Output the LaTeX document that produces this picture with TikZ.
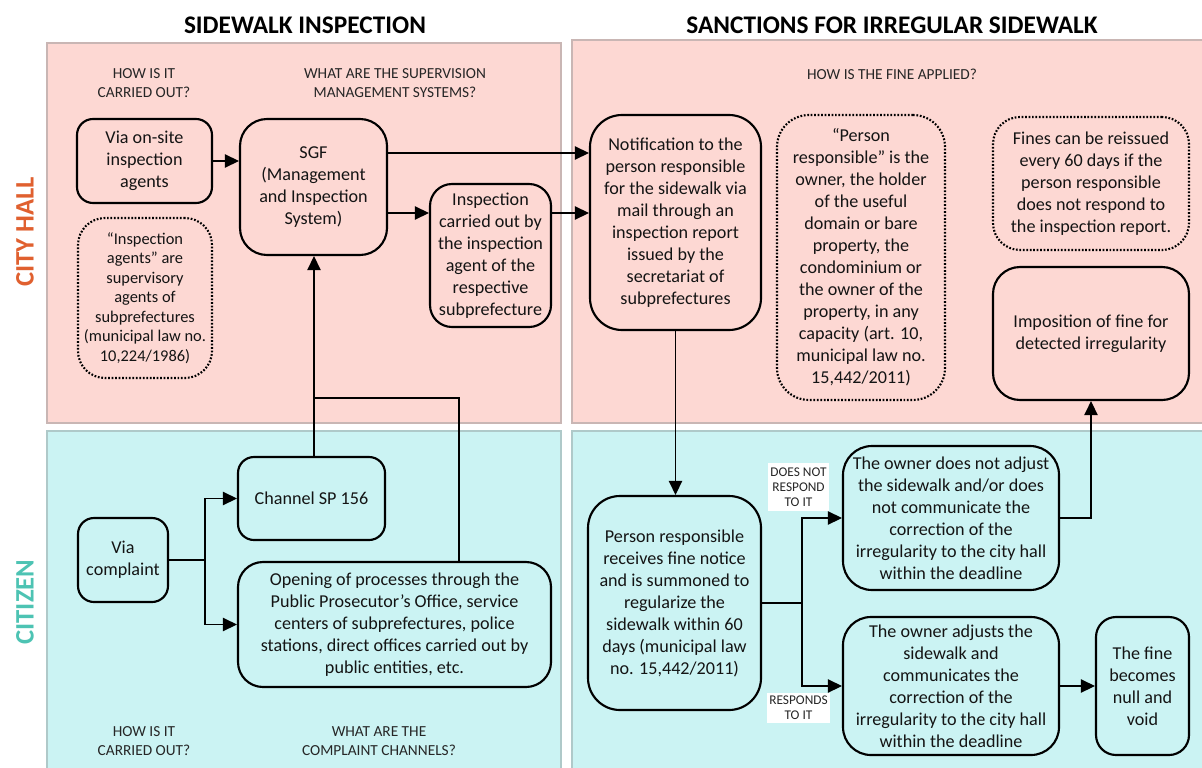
\documentclass[tikz,border=0pt]{standalone}
\usepackage{fontspec}
\setmainfont{Carlito}
\usetikzlibrary{arrows.meta,calc}
\definecolor{pinkbg}{HTML}{FDD8D3}
\definecolor{cyanbg}{HTML}{CBF3F3}
\definecolor{pinkline}{HTML}{C9B6B4}
\definecolor{cyanline}{HTML}{AFC9C9}
\definecolor{cityc}{HTML}{E0602F}
\definecolor{citizenc}{HTML}{4DC3B3}
\tikzset{
  bodyfont/.style={font=\fontsize{13.6}{16.5}\selectfont},
  smallbody/.style={font=\fontsize{12.3}{14.6}\selectfont},
  box/.style={draw=black, line width=1.6pt, align=center, inner sep=0pt, bodyfont, text=black!92},
  dotbox/.style={box, dash pattern=on 1.3pt off 1.3pt, line width=1.6pt},
  sz/.style 2 args={minimum width=#1*0.75pt, minimum height=#2*0.75pt},
  rc/.style={rounded corners=#1*0.75pt},
  conn/.style={draw=black, line width=0.9pt},
  arr/.style={conn, -{Triangle[length=10.5pt,width=10pt]}},
  qlabel/.style={align=center, font=\fontsize{11.5}{14.3}\selectfont, text=black!85},
  blabel/.style={align=center, fill=white, inner sep=1.5pt, font=\fontsize{10}{11.4}\selectfont, text=black!85},
  ttl/.style={font=\fontsize{19}{22}\selectfont\bfseries},
  side/.style={rotate=90, font=\fontsize{20}{22}\selectfont\bfseries},
  panel/.style={line width=0.8pt}
}
\begin{document}
\begin{tikzpicture}[x=0.75pt,y=-0.75pt]
\useasboundingbox (0,0) rectangle (1202,767);
% panels
\fill[pinkbg, draw=pinkline, panel] (47,43) rectangle (561,423);
\fill[pinkbg, draw=pinkline, panel] (572,40) rectangle (1205,423);
\fill[cyanbg, draw=cyanline, panel] (47,431) rectangle (561,770);
\fill[cyanbg, draw=cyanline, panel] (572,431) rectangle (1205,770);
% titles
\node[ttl] (t1) at (305,25) {SIDEWALK INSPECTION};
\node[ttl] (t2) at (892,25) {SANCTIONS FOR IRREGULAR SIDEWALK};
\node[side, text=cityc] (s1) at (25,232) {CITY HALL};
\node[side, text=citizenc] (s2) at (25,602) {CITIZEN};
% question labels
\node[qlabel] (q1) at (144,83) {HOW IS IT\\CARRIED OUT?};
\node[qlabel] (q2) at (395,83) {WHAT ARE THE SUPERVISION\\MANAGEMENT SYSTEMS?};
\node[qlabel] (q3) at (892,74) {HOW IS THE FINE APPLIED?};
\node[qlabel] (q4) at (144,741) {HOW IS IT\\CARRIED OUT?};
\node[qlabel] (q5) at (379,741) {WHAT ARE THE\\COMPLAINT CHANNELS?};
% boxes
\node[box, sz={135}{84}, rc=16] (via1) at (144.5,161) {Via on-site\\inspection\\agents};
\node[dotbox, smallbody, sz={134}{160}, rc=27] (note1) at (145,298) {“Inspection\\agents” are\\supervisory\\agents of\\subprefectures\\(municipal law no.\\10,224/1986)};
\node[box, sz={147}{136}, rc=27] (sgf) at (313.5,187) {SGF\\(Management\\and Inspection\\System)};
\node[box, sz={121}{143}, rc=22] (insp) at (490.5,255.5) {Inspection\\carried out by\\the inspection\\agent of the\\respective\\subprefecture};
\node[box, sz={171}{215}, rc=32] (notif) at (675.5,222.5) {Notification to the\\person responsible\\for the sidewalk via\\mail through an\\inspection report\\issued by the\\secretariat of\\subprefectures};
\node[dotbox, sz={168}{285}, rc=32] (person) at (861,257.5) {“Person\\responsible” is the\\owner, the holder\\of the useful\\domain or bare\\property, the\\condominium or\\the owner of the\\property, in any\\capacity (art. 10,\\municipal law no.\\15,442/2011)};
\node[dotbox, sz={196}{133}, rc=27] (fines) at (1091,183.5) {Fines can be reissued\\every 60 days if the\\person responsible\\does not respond to\\the inspection report.};
\node[box, sz={196}{133}, rc=27] (impos) at (1091,333.5) {Imposition of fine for\\detected irregularity};
\node[box, sz={90}{84}, rc=16] (viac) at (123,560) {Via\\complaint};
\node[box, sz={147}{83}, rc=16] (chan) at (311.5,498.5) {Channel SP 156};
\node[box, sz={313}{125}, rc=25] (open) at (394.5,624.5) {Opening of processes through the\\Public Prosecutor’s Office, service\\centers of subprefectures, police\\stations, direct offices carried out by\\public entities, etc.};
\node[box, sz={173}{214}, rc=32] (recv) at (674.5,603) {Person responsible\\receives fine notice\\and is summoned to\\regularize the\\sidewalk within 60\\days (municipal law\\no. 15,442/2011)};
\node[box, sz={216}{144}, rc=29] (notadj) at (951,518) {The owner does not adjust\\the sidewalk and/or does\\not communicate the\\correction of the\\irregularity to the city hall\\within the deadline};
\node[box, sz={216}{138}, rc=28] (adj) at (951,686) {The owner adjusts the\\sidewalk and\\communicates the\\correction of the\\irregularity to the city hall\\within the deadline};
\node[box, sz={93}{138}, rc=20] (nullv) at (1142.5,686) {The fine\\becomes\\null and\\void};
% helper coordinates
\coordinate (y153) at (0,153);
\coordinate (y213) at (0,213);
\coordinate (y398) at (0,398);
\coordinate (x205) at (205,0);
\coordinate (x459) at (459,0);
\coordinate (x802) at (802,0);
\coordinate (x1091) at (1091,0);
\coordinate (x314) at (314,0);
% connectors
\draw[arr] (via1.east) -- (via1.east -| sgf.west);
\draw[arr] (sgf.east |- y153) -- (notif.west |- y153);
\draw[arr] (sgf.east |- y213) -- (insp.west |- y213);
\draw[arr] (insp.east |- y213) -- (notif.west |- y213);
\draw[arr] (chan.north -| x314) -- (sgf.south -| x314);
\draw[conn] (open.north -| x459) -- (x459 |- y398) -- (x314 |- y398);
\draw[arr] (viac.east) -- (viac.east -| x205) |- (chan.west);
\draw[arr] (viac.east -| x205) |- (open.west);
\draw[arr] (notif.south) -- (notif.south |- recv.north);
\draw[arr] (recv.east) -- (recv.east -| x802) |- (notadj.west);
\draw[arr] (recv.east -| x802) |- (adj.west);
\draw[arr] (notadj.east) -- (notadj.east -| x1091) -- (impos.south -| x1091);
\draw[arr] (adj.east) -- (nullv.west);
% branch labels
\node[blabel, minimum width=59*0.75pt, minimum height=48*0.75pt] (l1) at (798.5,487) {DOES NOT\\RESPOND\\TO IT};
\node[blabel, minimum width=59*0.75pt, minimum height=30*0.75pt] (l2) at (798.5,708) {RESPONDS\\TO IT};
\end{tikzpicture}
\end{document}
